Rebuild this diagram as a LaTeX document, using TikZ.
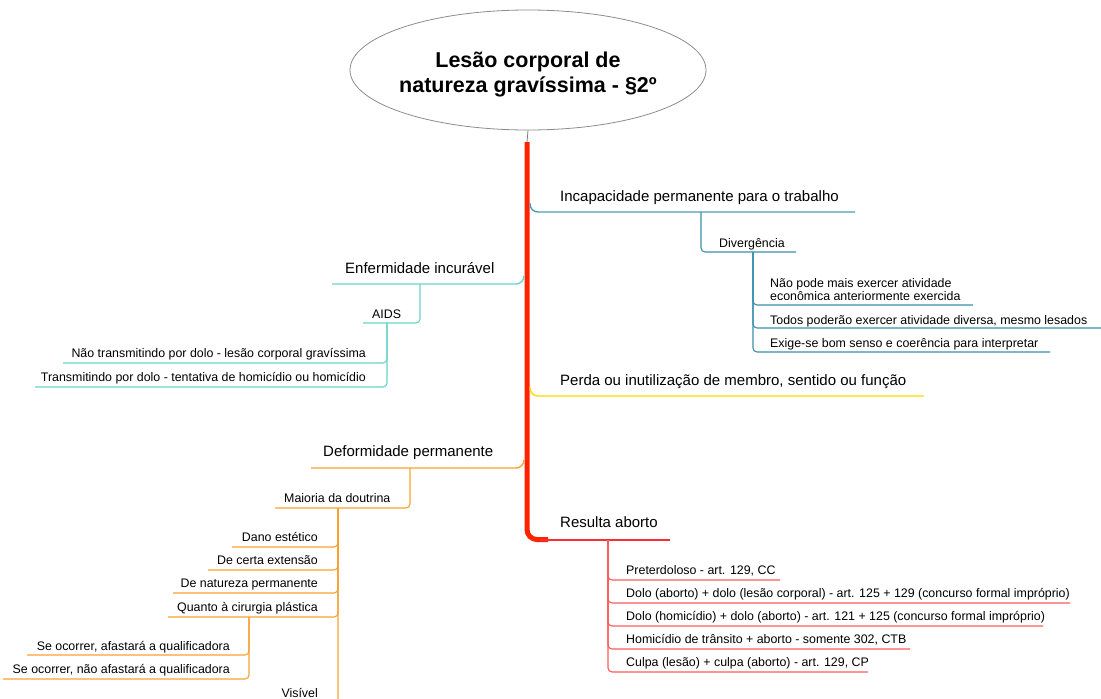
\documentclass[tikz,border=0pt]{standalone}
\usepackage{fontspec}
\setmainfont{Liberation Sans}
\usetikzlibrary{shapes.geometric}
\definecolor{trunkred}{HTML}{FF2200}
\definecolor{incap}{HTML}{4A9DB5}
\definecolor{incapsub}{HTML}{3A8FAD}
\definecolor{enferm}{HTML}{6AD4C8}
\definecolor{perda}{HTML}{FFD800}
\definecolor{deform}{HTML}{F8A133}
\definecolor{aborto}{HTML}{FF2E2E}
\definecolor{abortosub}{HTML}{FF5A5A}
\begin{document}
\begin{tikzpicture}[x=1pt,y=-1pt,
  titletext/.style={font=\fontsize{21.5}{25}\selectfont\bfseries, inner sep=0, anchor=base},
  mainw/.style={font=\fontsize{15}{18}\selectfont, inner sep=0, anchor=base west},
  subw/.style={font=\fontsize{12.4}{13}\selectfont, inner sep=0, anchor=base west},
  sube/.style={font=\fontsize{12.4}{13}\selectfont, inner sep=0, anchor=base east},
  mainline/.style={line width=1.4pt, rounded corners=8},
  subline/.style={line width=1.1pt, rounded corners=4},
]
\clip (0,0) rectangle (1101,699);

% central topic
\node[ellipse, draw=gray!90, line width=0.8pt, minimum width=356pt, minimum height=120pt] (root) at (528,70) {};
\node[titletext] (t1) at (528,67) {Lesão corporal de};
\node[titletext] (t2) at (528,92) {natureza gravíssima - §2º};

% trunk
\coordinate (trunktop) at (527,142);
\coordinate (trunkend) at (548,539.5);
\draw[gray, line width=0.8pt] (root.south) -- (trunktop);
\draw[trunkred, line width=5pt, rounded corners=10] (trunktop) |- (trunkend);

% ---------- Incapacidade permanente para o trabalho
\node[mainw] (incap) at (560,201) {Incapacidade permanente para o trabalho};
\coordinate (incapS) at (530,203);
\coordinate (incapE) at (855,212);
\draw[incap, mainline] (incapS) |- (incapE);

\node[subw] (diverg) at (719,247) {Divergência};
\coordinate (divS) at (701,212);
\coordinate (divE) at (796,252);
\draw[incapsub, subline] (divS) |- (divE);

\coordinate (divV) at (753,252);
\node[subw, align=left] (d1) at (770,300) {Não pode mais exercer atividade\\[-0.4pt]econômica anteriormente exercida};
\node[subw] (d2) at (770,324) {Todos poderão exercer atividade diversa, mesmo lesados};
\node[subw] (d3) at (770,347.5) {Exige-se bom senso e coerência para interpretar};
\coordinate (d1E) at (973,305);
\coordinate (d2E) at (1101,328);
\coordinate (d3E) at (1050,352);
\draw[incapsub, subline] (divV) |- (d1E);
\draw[incapsub, subline] (divV) |- (d2E);
\draw[incapsub, subline] (divV) |- (d3E);

% ---------- Enfermidade incurável
\node[mainw] (enf) at (345,273) {Enfermidade incurável};
\coordinate (enfS) at (524,276);
\coordinate (enfE) at (332,284);
\draw[enferm, mainline] (enfS) |- (enfE);

\node[subw] (aids) at (372,318) {AIDS};
\coordinate (aidsS) at (420,284);
\coordinate (aidsE) at (363,323);
\draw[enferm, subline] (aidsS) |- (aidsE);

\coordinate (aidsV) at (387,323);
\node[sube] (a1) at (366,357.5) {Não transmitindo por dolo - lesão corporal gravíssima};
\node[sube] (a2) at (366,381.5) {Transmitindo por dolo - tentativa de homicídio ou homicídio};
\coordinate (a1E) at (63,363);
\coordinate (a2E) at (35,387);
\draw[enferm, subline] (aidsV) |- (a1E);
\draw[enferm, subline] (aidsV) |- (a2E);

% ---------- Perda ou inutilização
\node[mainw] (perda) at (560,385) {Perda ou inutilização de membro, sentido ou função};
\coordinate (perdaS) at (530,387);
\coordinate (perdaE) at (924,396);
\draw[perda, mainline] (perdaS) |- (perdaE);

% ---------- Deformidade permanente
\node[mainw] (def) at (323,456.5) {Deformidade permanente};
\coordinate (defS) at (524,460);
\coordinate (defE) at (311,468);
\draw[deform, mainline] (defS) |- (defE);

\node[subw] (maioria) at (284,502) {Maioria da doutrina};
\coordinate (maiS) at (410,468);
\coordinate (maiE) at (275,508);
\draw[deform, subline] (maiS) |- (maiE);

\coordinate (maiV) at (338,508);
\node[sube] (m1) at (318,541.5) {Dano estético};
\node[sube] (m2) at (318,564.5) {De certa extensão};
\node[sube] (m3) at (318,587.5) {De natureza permanente};
\node[sube] (m4) at (318,611.5) {Quanto à cirurgia plástica};
\node[sube] (m5) at (318,697.5) {Visível};
\coordinate (m1E) at (232,547);
\coordinate (m2E) at (208,570);
\coordinate (m3E) at (173,593);
\coordinate (m4E) at (168,617);
\coordinate (m5E) at (275,703);
\draw[deform, subline] (maiV) |- (m1E);
\draw[deform, subline] (maiV) |- (m2E);
\draw[deform, subline] (maiV) |- (m3E);
\draw[deform, subline] (maiV) |- (m4E);
\draw[deform, subline] (maiV) |- (m5E);

\coordinate (cirV) at (249,617);
\node[sube] (c1) at (230,650) {Se ocorrer, afastará a qualificadora};
\node[sube] (c2) at (230,673.5) {Se ocorrer, não afastará a qualificadora};
\coordinate (c1E) at (27,655);
\coordinate (c2E) at (3,679);
\draw[deform, subline] (cirV) |- (c1E);
\draw[deform, subline] (cirV) |- (c2E);

% ---------- Resulta aborto
\node[mainw] (aborto) at (560,527.5) {Resulta aborto};
\coordinate (abS) at (540,540);
\coordinate (abE) at (670,540);
\draw[aborto, line width=1.4pt] (abS) -- (abE);

\coordinate (abV) at (608,540);
\node[subw] (r1) at (626,574.5) {Preterdoloso - art. 129, CC};
\node[subw] (r2) at (626,597.5) {Dolo (aborto) + dolo (lesão corporal) - art. 125 + 129 (concurso formal impróprio)};
\node[subw] (r3) at (626,620.5) {Dolo (homicídio) + dolo (aborto) - art. 121 + 125 (concurso formal impróprio)};
\node[subw] (r4) at (626,643.5) {Homicídio de trânsito + aborto - somente 302, CTB};
\node[subw] (r5) at (626,666.5) {Culpa (lesão) + culpa (aborto) - art. 129, CP};
\coordinate (r1E) at (780,580);
\coordinate (r2E) at (1070,603);
\coordinate (r3E) at (1043,626);
\coordinate (r4E) at (910,649);
\coordinate (r5E) at (868,672);
\draw[abortosub, subline] (abV) |- (r1E);
\draw[abortosub, subline] (abV) |- (r2E);
\draw[abortosub, subline] (abV) |- (r3E);
\draw[abortosub, subline] (abV) |- (r4E);
\draw[abortosub, subline] (abV) |- (r5E);
\end{tikzpicture}
\end{document}
